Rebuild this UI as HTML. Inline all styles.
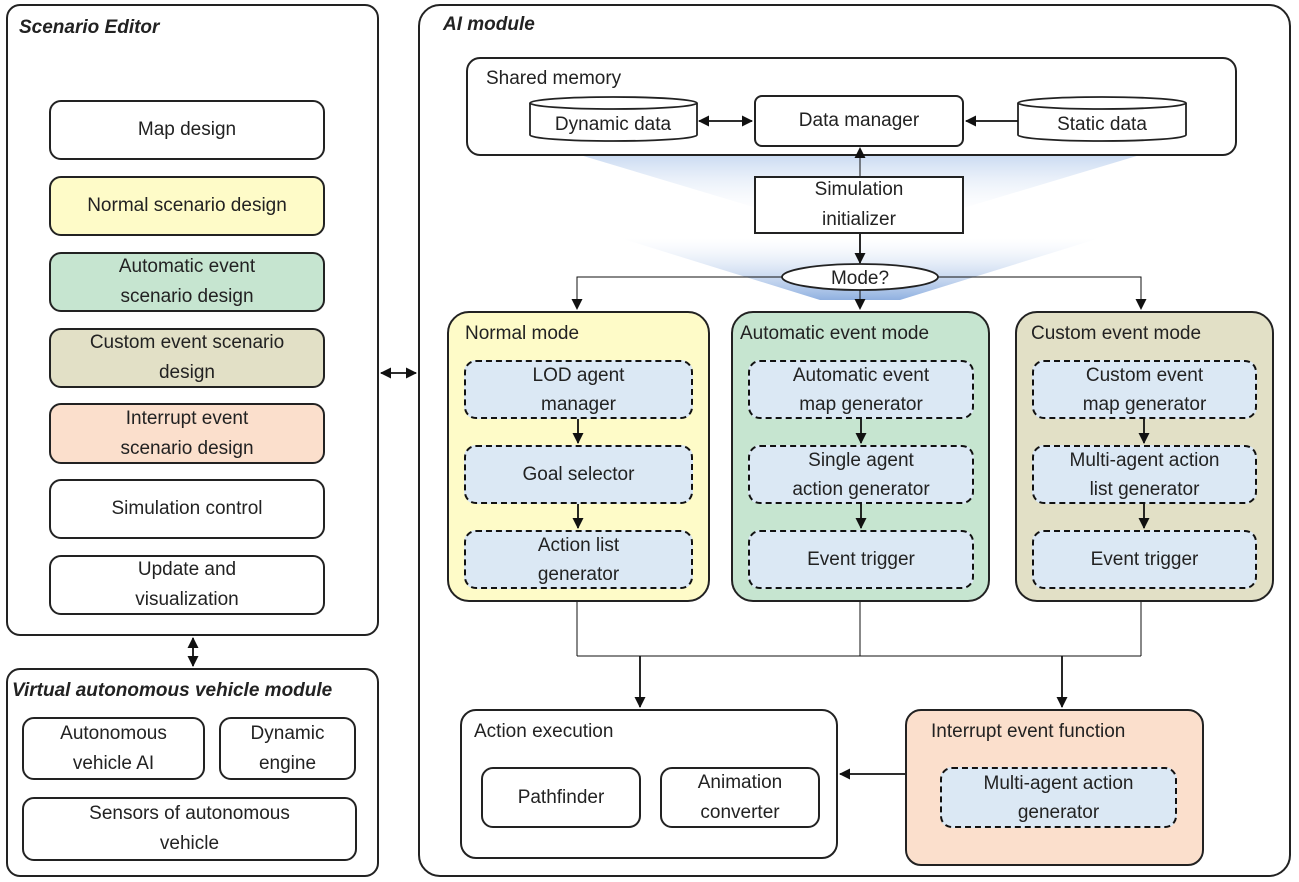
<!DOCTYPE html>
<html><head><style>
body{margin:0;width:1299px;height:882px;background:#fff;position:relative;font-family:"Liberation Sans",sans-serif;color:#222;overflow:hidden}
.b{position:absolute;box-sizing:border-box;border:2px solid #222;border-radius:12px;display:flex;align-items:center;justify-content:center;text-align:center;font-size:19px;line-height:30px}
.d{position:absolute;box-sizing:border-box;border:2.5px dashed #111;border-radius:12px;background:#dbe8f4;display:flex;align-items:center;justify-content:center;text-align:center;font-size:19px;line-height:29px}
.t{position:absolute;font-size:19px;white-space:nowrap}
.ti{position:absolute;font-size:19px;font-weight:bold;font-style:italic;white-space:nowrap}
svg{position:absolute;left:0;top:0}
</style></head><body>
<svg width="1299" height="882">
<defs>
<linearGradient id="g1" x1="0" y1="0" x2="0" y2="1"><stop offset="0" stop-color="#c4d6f0" stop-opacity="0.9"/><stop offset="1" stop-color="#ffffff" stop-opacity="0.2"/></linearGradient>
<linearGradient id="g2" x1="0" y1="0" x2="0" y2="1"><stop offset="0" stop-color="#ffffff" stop-opacity="0.3"/><stop offset="1" stop-color="#8fb0e0" stop-opacity="1"/></linearGradient>
<marker id="a" markerWidth="11" markerHeight="11" refX="10" refY="5.5" orient="auto-start-reverse" markerUnits="userSpaceOnUse"><path d="M0,0 L11,5.5 L0,11 z" fill="#111"/></marker>
</defs>
<polygon points="580,155 1140,155 940,215 780,215" fill="url(#g1)"/>
<polygon points="620,238 1100,238 900,300 820,300" fill="url(#g2)"/>
</svg>
<div class="b" style="left:6px;top:4px;width:373px;height:632px;border-radius:14px"></div>
<div class="ti" style="left:19px;top:17px">Scenario Editor</div>
<div class="b" style="left:49px;top:100px;width:276px;height:60px">Map design</div>
<div class="b" style="left:49px;top:176px;width:276px;height:60px;background:#fefbc8">Normal scenario design</div>
<div class="b" style="left:49px;top:252px;width:276px;height:60px;background:#c6e5d0">Automatic event<br>scenario design</div>
<div class="b" style="left:49px;top:328px;width:276px;height:60px;background:#e2e0c6">Custom event scenario<br>design</div>
<div class="b" style="left:49px;top:403px;width:276px;height:61px;background:#fbdfcc">Interrupt event<br>scenario design</div>
<div class="b" style="left:49px;top:479px;width:276px;height:60px">Simulation control</div>
<div class="b" style="left:49px;top:555px;width:276px;height:60px">Update and<br>visualization</div>

<div class="b" style="left:6px;top:668px;width:373px;height:209px;border-radius:14px"></div>
<div class="ti" style="left:12px;top:680px">Virtual autonomous vehicle module</div>
<div class="b" style="left:22px;top:717px;width:183px;height:63px">Autonomous<br>vehicle AI</div>
<div class="b" style="left:219px;top:717px;width:137px;height:63px">Dynamic<br>engine</div>
<div class="b" style="left:22px;top:797px;width:335px;height:64px">Sensors of autonomous<br>vehicle</div>

<div class="b" style="left:418px;top:4px;width:873px;height:873px;border-radius:22px;background:transparent"></div>
<div class="ti" style="left:443px;top:14px">AI module</div>
<div class="b" style="left:466px;top:57px;width:771px;height:99px;border-radius:14px;background:transparent"></div>
<div class="t" style="left:486px;top:68px">Shared memory</div>
<div class="b" style="left:754px;top:95px;width:210px;height:52px;background:#fff;border-radius:8px">Data manager</div>
<div class="b" style="left:754px;top:176px;width:210px;height:58px;border-radius:0;background:#fff">Simulation<br>initializer</div>

<div class="b" style="left:447px;top:311px;width:263px;height:291px;background:#fefbc8;border-radius:22px"></div>
<div class="b" style="left:731px;top:311px;width:259px;height:291px;background:#c6e5d0;border-radius:22px"></div>
<div class="b" style="left:1015px;top:311px;width:259px;height:291px;background:#e2e0c6;border-radius:22px"></div>
<div class="t" style="left:465px;top:323px">Normal mode</div>
<div class="t" style="left:740px;top:323px">Automatic event mode</div>
<div class="t" style="left:1031px;top:323px">Custom event mode</div>
<div class="d" style="left:464px;top:360px;width:229px;height:59px">LOD agent<br>manager</div>
<div class="d" style="left:464px;top:445px;width:229px;height:59px">Goal selector</div>
<div class="d" style="left:464px;top:530px;width:229px;height:59px">Action list<br>generator</div>
<div class="d" style="left:748px;top:360px;width:226px;height:59px">Automatic event<br>map generator</div>
<div class="d" style="left:748px;top:445px;width:226px;height:59px">Single agent<br>action generator</div>
<div class="d" style="left:748px;top:530px;width:226px;height:59px">Event trigger</div>
<div class="d" style="left:1032px;top:360px;width:225px;height:59px">Custom event<br>map generator</div>
<div class="d" style="left:1032px;top:445px;width:225px;height:59px">Multi-agent action<br>list generator</div>
<div class="d" style="left:1032px;top:530px;width:225px;height:59px">Event trigger</div>

<div class="b" style="left:460px;top:709px;width:378px;height:150px;border-radius:16px"></div>
<div class="t" style="left:474px;top:721px">Action execution</div>
<div class="b" style="left:481px;top:767px;width:160px;height:61px">Pathfinder</div>
<div class="b" style="left:660px;top:767px;width:160px;height:61px">Animation<br>converter</div>
<div class="b" style="left:905px;top:709px;width:299px;height:157px;border-radius:16px;background:#fbdfcc"></div>
<div class="t" style="left:931px;top:721px">Interrupt event function</div>
<div class="d" style="left:940px;top:767px;width:237px;height:61px">Multi-agent action<br>generator</div>

<svg width="1299" height="882" style="pointer-events:none">
<g fill="#fff" stroke="#222" stroke-width="1.8">
<path d="M530,103 v32 a83,6 0 0 0 167,0 v-32"/><ellipse cx="613.5" cy="103" rx="83.5" ry="6"/>
<path d="M1018,103 v32 a84,6 0 0 0 168,0 v-32"/><ellipse cx="1102" cy="103" rx="84" ry="6"/>
<ellipse cx="860" cy="277" rx="78" ry="13"/>
</g>
<g font-size="19" fill="#222" text-anchor="middle" font-family="Liberation Sans,sans-serif">
<text x="613" y="130">Dynamic data</text><text x="1102" y="130">Static data</text><text x="860" y="284">Mode?</text>
</g>
<g stroke="#111" stroke-width="1.8" fill="none">
<line x1="699" y1="121" x2="752" y2="121" marker-start="url(#a)" marker-end="url(#a)"/>
<line x1="1018" y1="121" x2="966" y2="121" marker-end="url(#a)"/>
<line x1="860" y1="176" x2="860" y2="148" marker-end="url(#a)" stroke-width="1"/>
<line x1="860" y1="234" x2="860" y2="263" marker-end="url(#a)"/>
<polyline points="782,277 577,277 577,309" marker-end="url(#a)" stroke-width="1"/>
<polyline points="938,277 1141,277 1141,309" marker-end="url(#a)" stroke-width="1"/>
<line x1="860" y1="290" x2="860" y2="309" marker-end="url(#a)" stroke-width="1"/>
<line x1="578" y1="419" x2="578" y2="443" marker-end="url(#a)"/>
<line x1="578" y1="504" x2="578" y2="528" marker-end="url(#a)"/>
<line x1="861" y1="419" x2="861" y2="443" marker-end="url(#a)"/>
<line x1="861" y1="504" x2="861" y2="528" marker-end="url(#a)"/>
<line x1="1144" y1="419" x2="1144" y2="443" marker-end="url(#a)"/>
<line x1="1144" y1="504" x2="1144" y2="528" marker-end="url(#a)"/>
<g stroke-width="1"><line x1="577" y1="602" x2="577" y2="656"/><line x1="860" y1="602" x2="860" y2="656"/><line x1="1141" y1="602" x2="1141" y2="656"/><line x1="577" y1="656" x2="1141" y2="656"/></g>
<line x1="640" y1="656" x2="640" y2="707" marker-end="url(#a)"/>
<line x1="1062" y1="656" x2="1062" y2="707" marker-end="url(#a)"/>
<line x1="905" y1="774" x2="840" y2="774" marker-end="url(#a)"/>
<line x1="381" y1="373" x2="416" y2="373" marker-start="url(#a)" marker-end="url(#a)"/>
<line x1="193" y1="638" x2="193" y2="666" marker-start="url(#a)" marker-end="url(#a)"/>
</g>
</svg>
</body></html>
